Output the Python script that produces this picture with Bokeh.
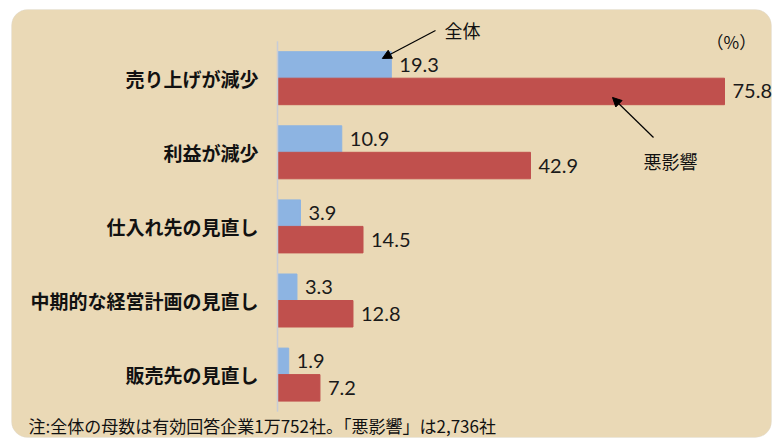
from bokeh.plotting import figure
from bokeh.models import Range1d, BoxAnnotation, Arrow, NormalHead, Label, ColumnDataSource
from bokeh.core.properties import value
from bokeh.embed import file_html
from bokeh.resources import INLINE

# ---- data ----
categories = ["売り上げが減少", "利益が減少", "仕入れ先の見直し", "中期的な経営計画の見直し", "販売先の見直し"]
overall = [19.3, 10.9, 3.9, 3.3, 1.9]      # 全体
adverse = [75.8, 42.9, 14.5, 12.8, 7.2]    # 悪影響
series_names = ["全体", "悪影響"]
unit_label = "（%）"
note = "注:全体の母数は有効回答企業1万752社。「悪影響」は2,736社"

# ---- layout helpers (pixel geometry of the canvas) ----
W, H = 776, 439
AXIS_PX = 277.0
SCALE = 447.0 / 75.8           # px per percent
ROW0_PX = 77.7                 # centre of first category
ROW_PITCH = 74.1               # px per category
BAR_H = 26.5 / ROW_PITCH       # bar thickness in category units


def X(px):
    return (px - AXIS_PX) / SCALE


def Y(py):
    return (py - ROW0_PX) / ROW_PITCH


idx = list(range(len(categories)))
y_blue = [i - BAR_H / 2 for i in idx]
y_red = [i + BAR_H / 2 for i in idx]

src = ColumnDataSource(dict(
    cat=categories, idx=idx, y_blue=y_blue, y_red=y_red,
    overall=overall, adverse=adverse,
    overall_txt=[f"{v:.1f}" for v in overall],
    adverse_txt=[f"{v:.1f}" for v in adverse],
))

p = figure(width=W, height=H, output_backend="svg", toolbar_location=None,
           x_range=Range1d(X(0), X(W)), y_range=Range1d(Y(H), Y(0)),
           x_axis_location=None, y_axis_location=None, min_border=0,
           background_fill_color="white", border_fill_color="white",
           outline_line_color=None)
p.grid.visible = False

# parchment panel
p.add_layout(BoxAnnotation(left=X(11), right=X(771), top=Y(9), bottom=Y(437),
                           fill_color="#EAD9B6", fill_alpha=1.0,
                           line_color="#d9d9d9", line_width=1,
                           border_radius=16, level="underlay"))

# bars
p.hbar(y="y_blue", left=0, right="overall", height=BAR_H, source=src,
       fill_color="#8DB4E2", line_color="#8DB4E2")
p.hbar(y="y_red", left=0, right="adverse", height=BAR_H, source=src,
       fill_color="#C0504D", line_color="#C0504D")

# category axis line
n = len(categories)
p.segment(x0=[0], x1=[0], y0=[-0.5], y1=[n - 0.5], line_color="#C8CCD6", line_width=1.5)

# category labels
p.text(x=0, y="idx", text="cat", source=src, x_offset=-19,
       text_align="right", text_baseline="middle",
       text_font=value("Noto Sans CJK JP"), text_font_style="bold",
       text_font_size="19px", text_color="#111111")

# value labels
p.text(x="overall", y="y_blue", text="overall_txt", source=src, x_offset=8,
       text_align="left", text_baseline="middle",
       text_font=value("Lato"), text_font_size="20px", text_color="#1a1a1a")
p.text(x="adverse", y="y_red", text="adverse_txt", source=src, x_offset=8,
       text_align="left", text_baseline="middle",
       text_font=value("Lato"), text_font_size="20px", text_color="#1a1a1a")

# series annotations with arrows
lab_font = dict(text_font="Noto Sans CJK JP", text_font_size="18px",
                text_color="#111111", text_baseline="middle")
p.add_layout(Label(x=X(444), y=Y(29), text=series_names[0], **lab_font))
p.add_layout(Arrow(x_start=X(435), y_start=Y(30),
                   x_end=overall[0] - 9 / SCALE, y_end=0 - BAR_H / 2 - 6.5 / ROW_PITCH,
                   line_color="black", line_width=1.2,
                   end=NormalHead(size=9, fill_color="black", line_color="black")))
p.add_layout(Label(x=X(643), y=Y(160), text=series_names[1], **lab_font))
p.add_layout(Arrow(x_start=X(653), y_start=Y(137),
                   x_end=adverse[0] - 112 / SCALE, y_end=0 + BAR_H / 2 + 6 / ROW_PITCH,
                   line_color="black", line_width=1.2,
                   end=NormalHead(size=9, fill_color="black", line_color="black")))

# unit label
p.add_layout(Label(x=X(706), y=Y(41), text=unit_label, text_baseline="middle",
                   text_font="Noto Sans CJK JP", text_font_size="17px",
                   text_color="#111111"))

# footnote
p.add_layout(Label(x=X(28), y=Y(425), text=note, text_baseline="middle",
                   text_font="Noto Sans CJK JP", text_font_size="17px",
                   text_color="#111111"))

open("out.html", "w").write(file_html(p, INLINE))
